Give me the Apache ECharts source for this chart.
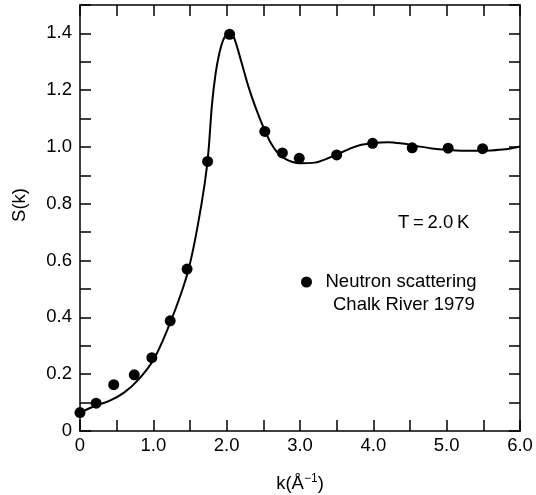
<!DOCTYPE html>
<html>
<head>
<meta charset="utf-8">
<script src="https://cdn.jsdelivr.net/npm/echarts@6/dist/echarts.min.js"></script>
<style>
html,body{margin:0;padding:0;background:#fff;}
#chart{width:536px;height:495px;}
</style>
</head>
<body>
<div id="chart"></div>
<script>
// Experimental points (neutron scattering, Chalk River 1979)
var kPoints = [0.0, 0.22, 0.46, 0.74, 0.98, 1.23, 1.46, 1.74, 2.04, 2.52, 2.76, 2.99, 3.50, 3.99, 4.53, 5.02, 5.49];
var sPoints = [0.065, 0.098, 0.163, 0.198, 0.258, 0.388, 0.570, 0.949, 1.397, 1.055, 0.979, 0.960, 0.972, 1.013, 0.997, 0.996, 0.994];

// Theory curve
var kCurve = [0.0, 0.2, 0.4, 0.6, 0.8, 1.0, 1.2, 1.4, 1.5, 1.6, 1.7, 1.75, 1.8, 1.85, 1.9, 1.95, 2.0, 2.05, 2.1, 2.2, 2.3, 2.4, 2.5, 2.6, 2.7, 2.8, 2.9, 3.0, 3.2, 3.4, 3.6, 3.8, 4.0, 4.2, 4.4, 4.6, 4.8, 5.0, 5.2, 5.4, 5.6, 5.8, 6.0];
var sCurve = [0.065, 0.088, 0.106, 0.135, 0.182, 0.250, 0.362, 0.500, 0.590, 0.715, 0.870, 0.980, 1.150, 1.260, 1.330, 1.375, 1.395, 1.400, 1.385, 1.300, 1.210, 1.135, 1.070, 1.015, 0.978, 0.958, 0.947, 0.943, 0.945, 0.962, 0.985, 1.005, 1.014, 1.017, 1.012, 1.003, 0.995, 0.990, 0.987, 0.987, 0.988, 0.992, 1.002];

var xTickValues = [0, 1, 2, 3, 4, 5, 6];
var xTickLabels = ['0', '1.0', '2.0', '3.0', '4.0', '5.0', '6.0'];
var yTickValues = [0, 0.2, 0.4, 0.6, 0.8, 1.0, 1.2, 1.4];
var yTickLabels = ['0', '0.2', '0.4', '0.6', '0.8', '1.0', '1.2', '1.4'];

var FONT = 'Liberation Sans';
var FS = 18.5;

function labelFor(values, labels, v) {
  for (var i = 0; i < values.length; i++) {
    if (Math.abs(values[i] - v) < 1e-6) return labels[i];
  }
  return '';
}

var chart = echarts.init(document.getElementById('chart'), null, {renderer: 'canvas'});

var axisLine = {show: true, onZero: false, lineStyle: {color: '#000', width: 1.5}};
var axisTick = {show: true, inside: true, length: 11, lineStyle: {color: '#000', width: 1.5}};

var option = {
  backgroundColor: '#fff',
  animation: false,
  grid: {left: 80, right: 16, top: 5, bottom: 64, containLabel: false, outerBoundsMode: 'none'},
  xAxis: [{
    type: 'value', min: 0, max: 6, interval: 0.5, position: 'bottom',
    axisLine: axisLine, axisTick: axisTick, splitLine: {show: false},
    axisLabel: {
      margin: 5, color: '#000', fontFamily: FONT, fontSize: FS,
      formatter: function (v) { return labelFor(xTickValues, xTickLabels, v); }
    },
    name: 'k(Å{sup|−1})',
    nameLocation: 'middle', nameGap: 42,
    nameTextStyle: {
      color: '#000', fontFamily: FONT, fontSize: FS,
      rich: {sup: {fontFamily: FONT, fontSize: 12, color: '#000', padding: [0, 0, 9, 0]}}
    }
  }, {
    type: 'value', min: 0, max: 6, interval: 0.5, position: 'top',
    axisLine: axisLine, axisTick: axisTick, splitLine: {show: false},
    axisLabel: {show: false}
  }],
  yAxis: [{
    type: 'value', min: 0, max: 1.5, interval: 0.1, position: 'left',
    axisLine: axisLine, axisTick: axisTick, splitLine: {show: false},
    axisLabel: {
      margin: 8, color: '#000', fontFamily: FONT, fontSize: FS,
      formatter: function (v) { return labelFor(yTickValues, yTickLabels, v); }
    }
  }, {
    type: 'value', min: 0, max: 1.5, interval: 0.1, position: 'right',
    axisLine: axisLine, axisTick: axisTick, splitLine: {show: false},
    axisLabel: {show: false}
  }],
  legend: {
    show: true,
    data: [{name: 'Neutron scattering', icon: 'circle', itemStyle: {color: '#000', opacity: 1}}],
    left: 301, top: 271, padding: 0,
    itemWidth: 26, itemHeight: 11,
    textStyle: {color: '#000', fontFamily: FONT, fontSize: FS, lineHeight: 22, padding: [0, 0, 0, 1]},
    selectedMode: false
  },
  graphic: [
    {type: 'text', x: 333, y: 305, style: {text: 'Chalk River 1979', font: FS + 'px "' + FONT + '"', fill: '#000', textAlign: 'left', textVerticalAlign: 'middle'}},
    {type: 'text', x: 398, y: 223, style: {text: 'T\u2009=\u20092.0\u2009K', font: FS + 'px "' + FONT + '"', fill: '#000', textAlign: 'left', textVerticalAlign: 'middle'}},
    {type: 'text', x: 20, y: 205, rotation: Math.PI / 2, style: {text: 'S(k)', font: FS + 'px "' + FONT + '"', fill: '#000', textAlign: 'center', textVerticalAlign: 'middle'}}
  ],
  series: [{
    name: 'Theory',
    type: 'line',
    data: kCurve.map(function (k, i) { return [k, sCurve[i]]; }),
    smooth: 0.35,
    showSymbol: false,
    symbol: 'none',
    lineStyle: {color: '#000', width: 2},
    z: 2
  }, {
    name: 'Neutron scattering',
    type: 'scatter',
    data: kPoints.map(function (k, i) { return [k, sPoints[i]]; }),
    symbol: 'circle',
    symbolSize: 11,
    itemStyle: {color: '#000', opacity: 1},
    z: 3
  }]
};
chart.setOption(option);
</script>
</body>
</html>
